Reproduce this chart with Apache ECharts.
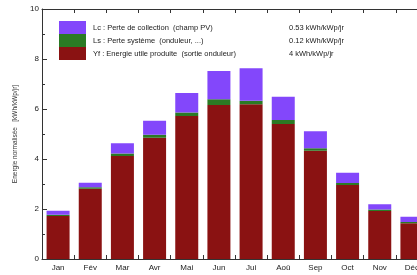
<!DOCTYPE html>
<html>
<head>
<meta charset="utf-8">
<script src="https://cdn.jsdelivr.net/npm/echarts@6/dist/echarts.min.js"></script>
<style>
  html, body { margin: 0; padding: 0; background: #fff; }
  #chart { width: 417px; height: 275px; }
</style>
</head>
<body>
<div id="chart"></div>
<script>
// mois
var months = ['Jan', 'Fév', 'Mar', 'Avr', 'Mai', 'Jun', 'Jui', 'Aoû', 'Sep', 'Oct', 'Nov', 'Déc'];
// Yf : énergie utile produite (sortie onduleur)
var yf = [1.72, 2.81, 4.12, 4.85, 5.72, 6.16, 6.19, 5.40, 4.33, 2.96, 1.92, 1.43];
// Ls : perte système
var ls = [0.05, 0.06, 0.10, 0.12, 0.14, 0.23, 0.14, 0.16, 0.10, 0.08, 0.06, 0.05];
// Lc : perte de collection
var lc = [0.16, 0.18, 0.41, 0.56, 0.78, 1.13, 1.30, 0.93, 0.68, 0.41, 0.21, 0.21];
// légende
var seriesNames = ['Lc : Perte de collection  (champ PV)', 'Ls : Perte système  (onduleur, ...)', 'Yf : Energie utile produite  (sortie onduleur)'];
var yearly = ['0.53 kWh/kWp/jr', '0.12 kWh/kWp/jr', '4 kWh/kWp/jr'];
var yTicks = [0, 2, 4, 6, 8, 10];

var colors = { lc: '#8347fb', ls: '#2b7a24', yf: '#8a1212' };
var axisColor = '#333';

var chart = echarts.init(document.getElementById('chart'));

var option = {
  animation: false,
  backgroundColor: '#ffffff',
  textStyle: { fontFamily: 'Liberation Sans, Arial, sans-serif' },
  grid: { left: 42, top: 9, width: 386, bottom: 16, outerBoundsMode: 'none' },
  legend: {
    data: seriesNames,
    orient: 'vertical',
    left: 54,
    top: 16,
    itemWidth: 27,
    itemHeight: 13,
    itemGap: 0,
    icon: 'rect',
    selectedMode: false,
    formatter: function (name) {
      var i = seriesNames.indexOf(name);
      return '{a|' + name + '}{b|' + yearly[i] + '}';
    },
    textStyle: {
      color: '#222',
      fontSize: 7.5,
      padding: [0, 0, 0, 2],
      rich: {
        a: { width: 196, fontSize: 7.5, color: '#222' },
        b: { fontSize: 7.5, color: '#222' }
      }
    }
  },
  xAxis: [{
    type: 'category',
    data: months,
    axisLine: { lineStyle: { color: axisColor, width: 1 } },
    axisTick: { show: true, inside: true, length: 4, lineStyle: { color: axisColor } },
    axisLabel: { color: '#222', fontSize: 8, margin: 5 }
  }, {
    type: 'category',
    data: months,
    position: 'top',
    axisLine: { show: true, lineStyle: { color: axisColor, width: 1 } },
    axisTick: { show: true, inside: true, length: 4, lineStyle: { color: axisColor } },
    axisLabel: { show: false }
  }],
  yAxis: {
    type: 'value',
    min: 0,
    max: 10,
    interval: 2,
    name: 'Energie normalisée   [kWh/kWp/jr]',
    nameLocation: 'middle',
    nameGap: 20,
    nameTextStyle: { fontSize: 6.5, color: '#333' },
    axisLine: { show: true, lineStyle: { color: axisColor, width: 1 } },
    axisTick: { show: true, inside: true, length: 5, lineStyle: { color: axisColor } },
    minorTick: { show: true, splitNumber: 2, length: 3, lineStyle: { color: axisColor } },
    splitLine: { show: false },
    axisLabel: {
      color: '#222', fontSize: 8, margin: 3,
      formatter: function (v) { return yTicks.indexOf(v) >= 0 ? String(v) : ''; }
    }
  },
  series: [{
    name: seriesNames[2],
    type: 'bar',
    stack: 'total',
    barWidth: 23,
    data: yf,
    itemStyle: { color: colors.yf }
  }, {
    name: seriesNames[1],
    type: 'bar',
    stack: 'total',
    barWidth: 23,
    data: ls,
    itemStyle: { color: colors.ls }
  }, {
    name: seriesNames[0],
    type: 'bar',
    stack: 'total',
    barWidth: 23,
    data: lc,
    itemStyle: { color: colors.lc }
  }]
};

chart.setOption(option);
</script>
</body>
</html>
